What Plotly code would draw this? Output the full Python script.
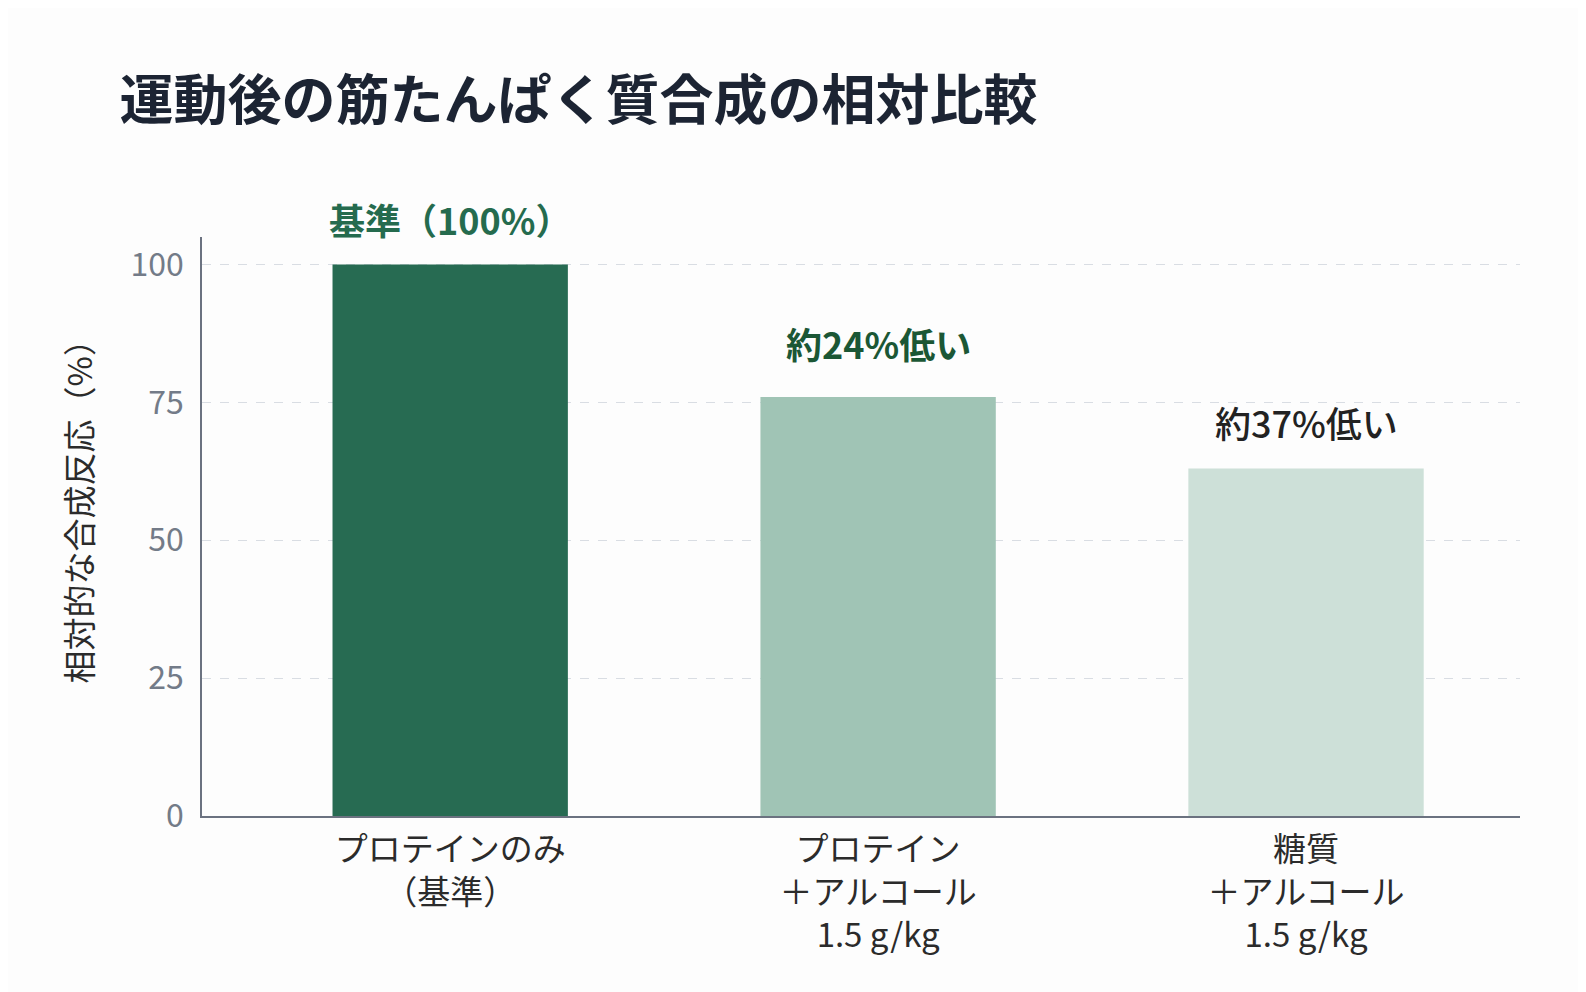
import plotly.graph_objects as go

categories = ["プロテインのみ<br>（基準）", "プロテイン<br>＋アルコール<br>1.5 g/kg", "糖質<br>＋アルコール<br>1.5 g/kg"]
values = [100, 76, 63]
bar_colors = ["#276b52", "#a0c4b5", "#cde0d8"]
labels = ["基準（100%）", "約24%低い", "約37%低い"]
label_colors = ["#256b4e", "#1b5735", "#222222"]
label_weights = [600, 600, 500]
label_shifts = [46, 54, 47]
tick_vals = [0, 25, 50, 75, 100]

FONT = "Noto Sans CJK JP"

fig = go.Figure()
fig.add_trace(go.Bar(
    x=[0, 1, 2],
    y=values,
    marker=dict(color=bar_colors, line=dict(width=0)),
    width=0.55,
    hoverinfo="skip",
))

for i, v in enumerate(values):
    fig.add_annotation(
        x=i, y=v, text=labels[i], showarrow=False, yshift=label_shifts[i],
        font=dict(family=FONT, size=36, color=label_colors[i], weight=label_weights[i]),
    )

# y axis title as an annotation so it can sit slightly above the middle
fig.add_annotation(
    text="相対的な合成反応（%）", xref="paper", yref="paper",
    x=-0.094, y=0.54, xanchor="center", yanchor="middle",
    textangle=-90, showarrow=False,
    font=dict(family=FONT, size=33, color="#2b2b2b"),
)

fig.update_layout(
    width=1586, height=992,
    paper_bgcolor="#fdfdfd", plot_bgcolor="#fdfdfd",
    font=dict(family=FONT, color="#333333"),
    title=dict(
        text="<b>運動後の筋たんぱく質合成の相対比較</b>",
        x=0.0703, xanchor="left", y=0.906, yanchor="middle",
        font=dict(family=FONT, size=54, color="#1c2433"),
    ),
    margin=dict(l=194, r=74, t=229, b=184),
    showlegend=False,
)
fig.update_xaxes(
    tickvals=[0, 1, 2], ticktext=categories, range=[-0.58, 2.5],
    showline=True, linecolor="#6b7280", linewidth=1.5,
    showgrid=False, ticks="", ticklabelstandoff=4,
    tickfont=dict(family=FONT, size=33, color="#2b2b2b"),
)
fig.update_yaxes(
    range=[0, 105], tickvals=tick_vals,
    showline=True, linecolor="#6b7280", linewidth=1.5,
    showgrid=True, gridcolor="#d9dde3", griddash="dash", gridwidth=1,
    zeroline=False, ticks="", ticklen=0, ticklabelstandoff=10,
    tickfont=dict(family=FONT, size=32, color="#737b88"),
)

fig.write_html("out.html")
